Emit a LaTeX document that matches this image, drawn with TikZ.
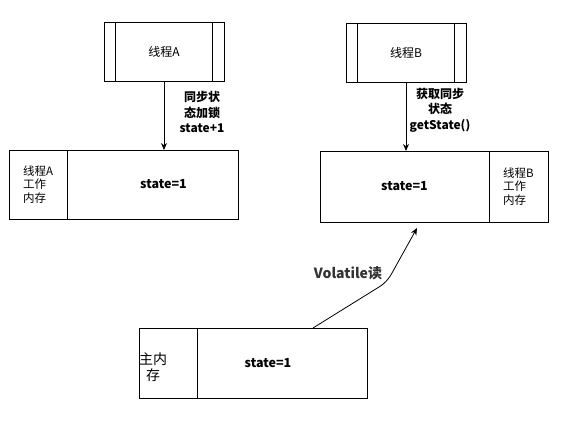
\documentclass[tikz,border=0pt]{standalone}
\usepackage{fontspec}
\setmainfont{Noto Sans CJK SC}
\usetikzlibrary{arrows.meta, positioning}

\begin{document}
\begin{tikzpicture}[x=1pt, y=-1pt, line width=0.9pt,
  thread/.style={draw, minimum width=120pt, minimum height=59pt, font=\fontsize{12}{15}\selectfont},
  cell/.style={draw, inner sep=0pt, outer sep=0pt},
  mem/.style={align=left, font=\fontsize{11.5}{13.5}\selectfont},
  val/.style={font=\bfseries\fontsize{12.5}{15}\selectfont},
  elabel/.style={align=center, font=\bfseries\fontsize{12}{15.5}\selectfont},
  arr/.style={-{Stealth[length=7pt, width=6pt]}}]
\useasboundingbox (0,0) rectangle (586,426);

% threads
\node[thread] (tA) at (164,51.5) {线程A};
\node[thread] (tB) at (406,52.5) {线程B};
\foreach \t in {tA,tB}{
  \draw ([xshift=12pt]\t.north west) -- ([xshift=12pt]\t.south west);
  \draw ([xshift=-12pt]\t.north east) -- ([xshift=-12pt]\t.south east);
}

% working memory of thread A
\node[cell, minimum width=171pt, minimum height=69pt,
  label={[val, xshift=11pt]center:state=1}] (wA) at (152.5,184.5) {};
\node[cell, mem, minimum width=58pt, minimum height=69pt, left=0pt of wA] (lA) {线程A\\工作\\内存};

% working memory of thread B
\node[cell, val, minimum width=169pt, minimum height=71pt] (wB) at (404.5,186.5) {state=1};
\node[cell, mem, minimum width=59pt, minimum height=71pt, right=0pt of wB] (lB) {线程B\\工作\\内存};

% main memory
\node[cell, minimum width=170pt, minimum height=70pt,
  label={[val, xshift=-14pt]center:state=1}] (mv) at (282,363) {};
\node[cell, minimum width=58pt, minimum height=70pt, left=0pt of mv,
  label={[align=center, font=\fontsize{14}{16.5}\selectfont, xshift=-15pt, yshift=-4pt]center:主内\\存}] (mm) {};

% thread A writes
\draw[arr] (tA.south) -- (tA.south |- wA.north);
\node[elabel] (sA) at (202,112) {同步状\\态加锁\\state+1};

% thread B reads
\draw[arr] (tB.south) -- (tB.south |- wB.north);
\node[elabel] (sB) at (440,110) {获取同步\\状态\\getState()};

% volatile read
\coordinate (bend) at (387,282);
\draw[arr, line width=0.8pt, rounded corners=8pt] ([xshift=31pt]mv.north) -- (bend) -- ([xshift=12.5pt, yshift=-6pt]wB.south);
\node[elabel, text=black!80, font=\bfseries\fontsize{14}{16}\selectfont] (vr) at (348,273) {Volatile读};
\end{tikzpicture}
\end{document}
